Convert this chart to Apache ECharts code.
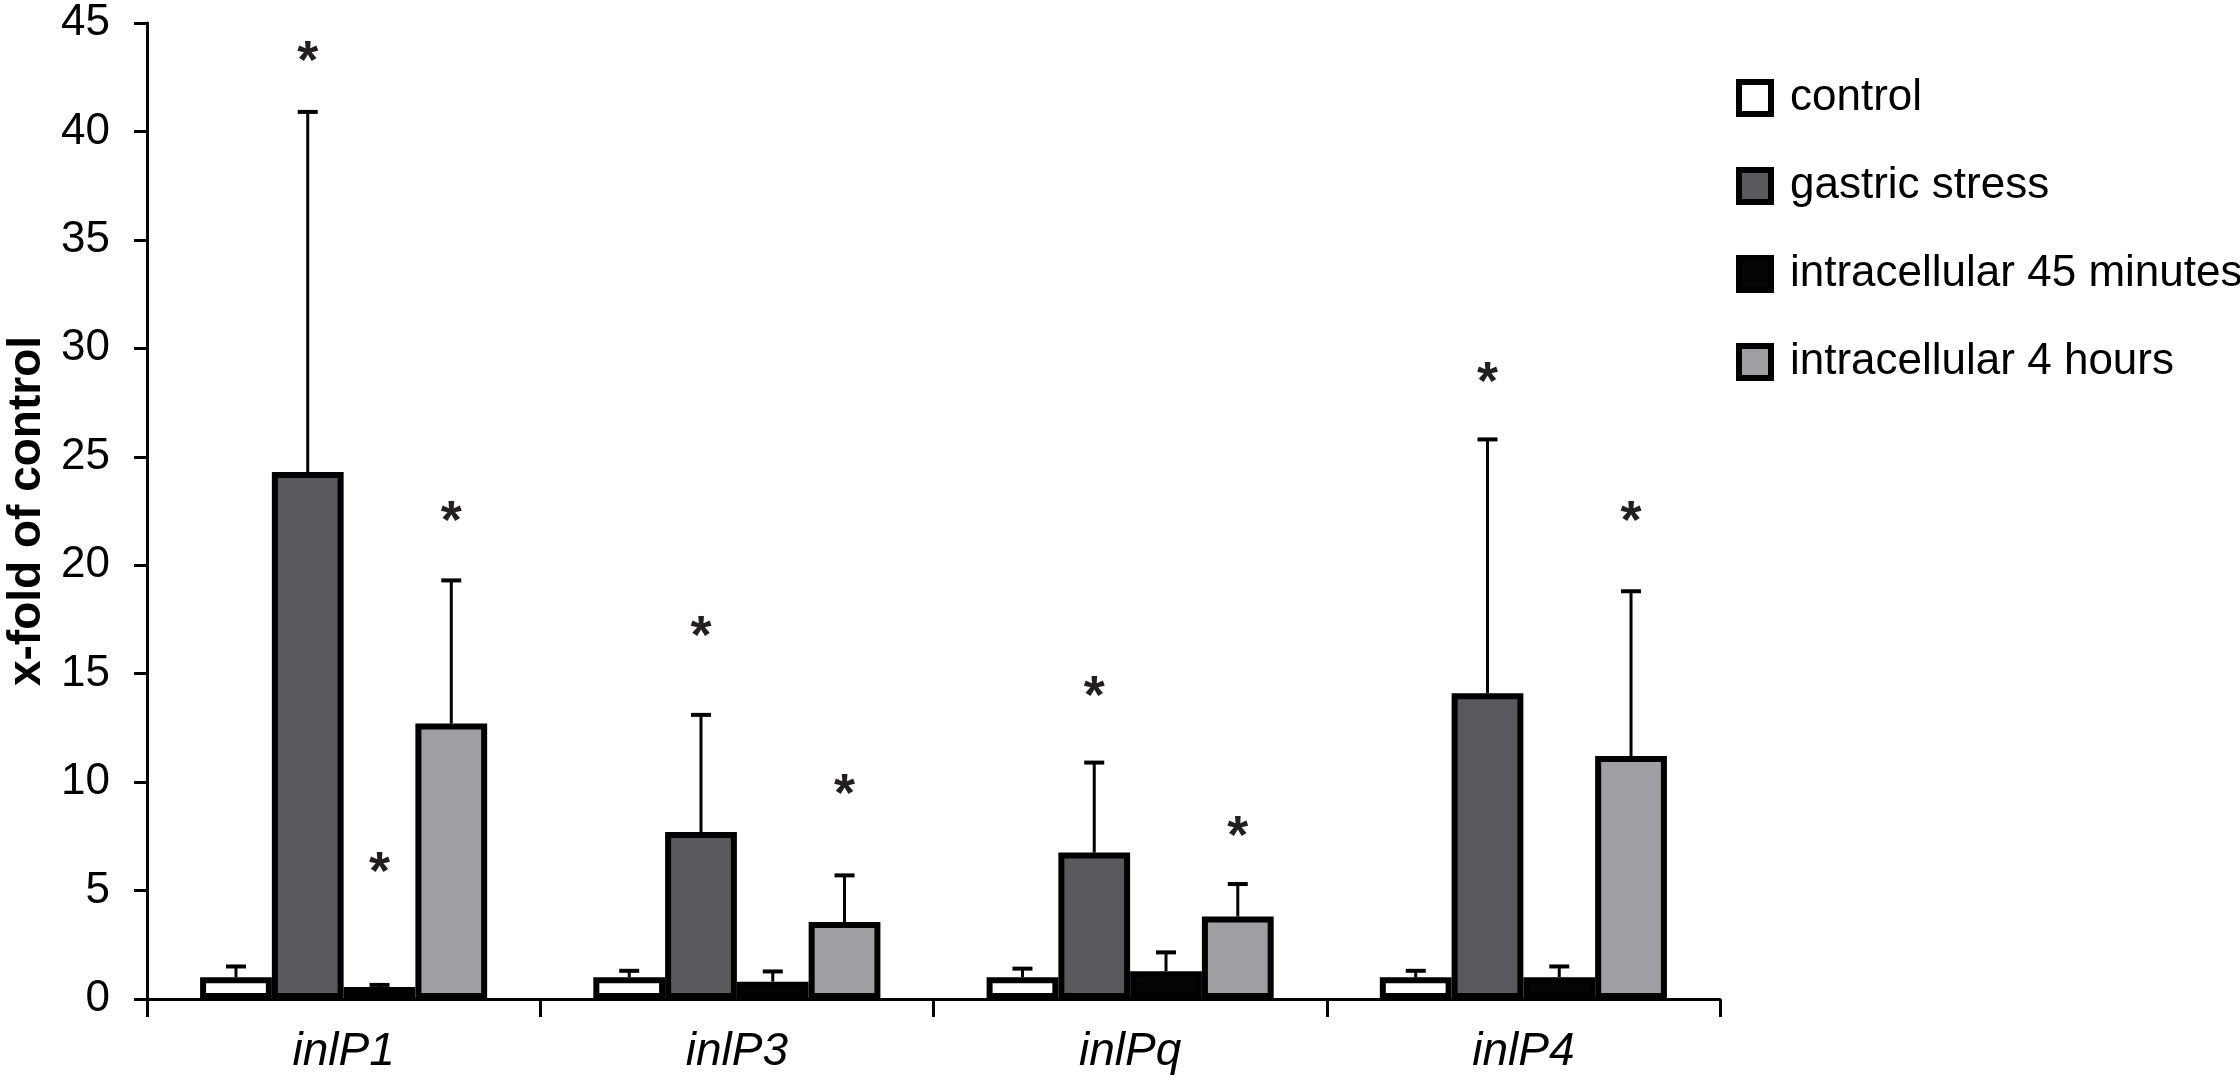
<!DOCTYPE html>
<html>
<head>
<meta charset="utf-8">
<script src="https://cdn.jsdelivr.net/npm/echarts@6/dist/echarts.min.js"></script>
<style>
html,body{margin:0;padding:0;background:#fff;}
#chart{width:2240px;height:1078px;}
</style>
</head>
<body>
<div id="chart"></div>
<script>
// ---- data ----
const categories = ['inlP1', 'inlP3', 'inlPq', 'inlP4'];
const seriesNames = ['control', 'gastric stress', 'intracellular 45 minutes', 'intracellular 4 hours'];
const controlValues   = [1.0, 1.0, 1.0, 1.0];
const gastricValues   = [24.3, 7.7, 6.75, 14.1];
const intra45Values   = [0.55, 0.8, 1.28, 1.0];
const intra4hValues   = [12.7, 3.55, 3.8, 11.2];
// upper error (SD) above mean
const controlErr = [0.5, 0.3, 0.4, 0.3];
const gastricErr = [16.6, 5.4, 4.15, 11.7];
const intra45Err = [0.1, 0.47, 0.87, 0.5];
const intra4hErr = [6.6, 2.15, 1.5, 7.6];
// significance asterisk positions (y value), null = none
const controlStar = [null, null, null, null];
const gastricStar = [43.7, 17.2, 14.4, 28.9];
const intra45Star = [6.3, null, null, null];
const intra4hStar = [22.5, 9.9, 7.95, 22.5];
const yMin = 0, yMax = 45, yStep = 5;
const yAxisTitle = 'x-fold of control';

// ---- styling ----
const FONT = '"Liberation Sans", Arial, sans-serif';
const colors = ['#ffffff', '#58595d', '#050505', '#9d9fa2'];
const CAT_GAP = 0.27;
const NBARS = 4;

const valuesList = [controlValues, gastricValues, intra45Values, intra4hValues];
const errList = [controlErr, gastricErr, intra45Err, intra4hErr];
const starList = [controlStar, gastricStar, intra45Star, intra4hStar];

const series = [];
valuesList.forEach(function (vals, i) {
  series.push({
    name: seriesNames[i],
    type: 'bar',
    data: vals,
    barGap: '0%',
    barCategoryGap: (CAT_GAP * 100) + '%',
    itemStyle: { color: colors[i], borderColor: '#000', borderWidth: 6 },
    z: 3
  });
});

function offsetFor(i, api) {
  const band = api.size([1, 0])[0];
  const bw = band * (1 - CAT_GAP) / NBARS;
  return (i - (NBARS - 1) / 2) * bw;
}

valuesList.forEach(function (vals, i) {
  const errData = vals.map(function (v, k) { return [k, v, v + errList[i][k]]; });
  series.push({
    type: 'custom',
    name: seriesNames[i] + ' err',
    z: 2,
    silent: true,
    data: errData,
    renderItem: function (params, api) {
      const base = api.coord([api.value(0), api.value(1)]);
      const top = api.coord([api.value(0), api.value(2)]);
      const x = base[0] + offsetFor(i, api);
      const cap = 10;
      return {
        type: 'group',
        children: [
          { type: 'line', shape: { x1: x, y1: base[1], x2: x, y2: top[1] },
            style: { stroke: '#000', lineWidth: 3 } },
          { type: 'line', shape: { x1: x - cap, y1: top[1], x2: x + cap, y2: top[1] },
            style: { stroke: '#000', lineWidth: 4 } }
        ]
      };
    }
  });
  const starData = [];
  starList[i].forEach(function (s, k) { if (s !== null) starData.push([k, s]); });
  series.push({
    type: 'custom',
    name: seriesNames[i] + ' star',
    z: 4,
    silent: true,
    data: starData,
    renderItem: function (params, api) {
      const p = api.coord([api.value(0), api.value(1)]);
      const x = p[0] + offsetFor(i, api);
      const fs = 54;
      return {
        type: 'text',
        style: {
          text: '*', x: x, y: p[1] + fs * 0.22,
          fontSize: fs, fontFamily: FONT, fontWeight: 'bold',
          fill: '#231f20', align: 'center', verticalAlign: 'middle'
        }
      };
    }
  });
});

const chart = echarts.init(document.getElementById('chart'));
chart.setOption({
  backgroundColor: '#fff',
  animation: false,
  textStyle: { fontFamily: FONT },
  grid: { left: 147, right: 520, top: 23, bottom: 79, containLabel: false, outerBoundsMode: 'none' },
  legend: {
    data: seriesNames,
    orient: 'vertical',
    left: 1731,
    top: 71,
    itemWidth: 32,
    itemHeight: 32,
    itemGap: 44,
    icon: 'rect',
    itemStyle: { borderColor: '#000', borderWidth: 6 },
    textStyle: { fontSize: 44, fontFamily: FONT, color: '#000', lineHeight: 44, padding: [0, 0, 0, 14] },
    selectedMode: false
  },
  xAxis: {
    type: 'category',
    data: categories,
    axisLine: { lineStyle: { color: '#000', width: 3 } },
    axisTick: { show: true, length: 18, lineStyle: { color: '#000', width: 3 } },
    axisLabel: { fontSize: 46, fontStyle: 'italic', color: '#000', margin: 30, fontFamily: FONT }
  },
  yAxis: {
    type: 'value',
    min: yMin, max: yMax, interval: yStep,
    name: yAxisTitle,
    nameLocation: 'middle',
    nameRotate: 90,
    nameGap: 96,
    nameTextStyle: { fontSize: 46, fontWeight: 'bold', color: '#000', fontFamily: FONT },
    splitLine: { show: false },
    axisLine: { show: true, lineStyle: { color: '#000', width: 3 } },
    axisTick: { show: true, length: 13, lineStyle: { color: '#000', width: 3 } },
    axisLabel: { fontSize: 44, color: '#000', margin: 37, fontFamily: FONT }
  },
  series: series
});
</script>
</body>
</html>
